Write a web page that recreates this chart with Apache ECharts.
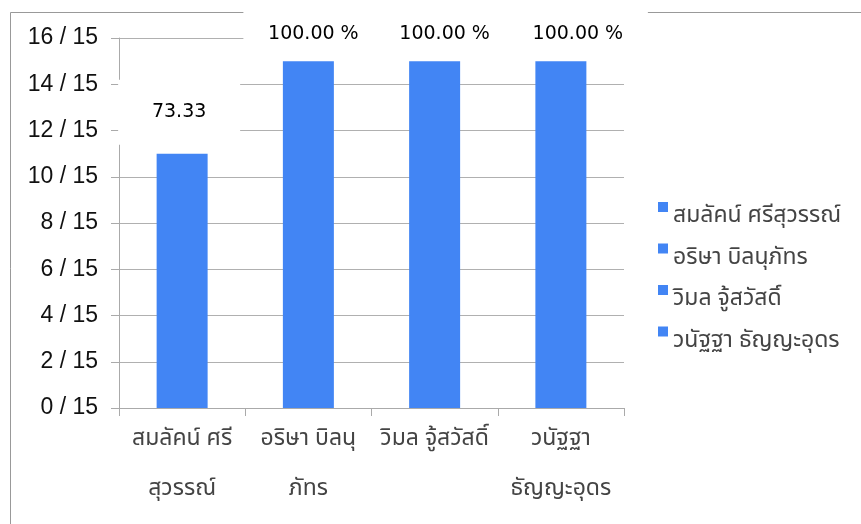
<!DOCTYPE html>
<html>
<head>
<meta charset="utf-8">
<script src="https://cdn.jsdelivr.net/npm/echarts@6/dist/echarts.min.js"></script>
<style>html,body{margin:0;padding:0;background:#fff}#c{width:861px;height:524px}</style>
</head>
<body>
<div id="c"></div>
<script>
var names = ['สมลัคน์ ศรีสุวรรณ์', 'อริษา บิลนุภัทร', 'วิมล จู้สวัสดิ์', 'วนัฐฐา ธัญญะอุดร'];
var xTickLabels = ['สมลัคน์ ศรี\nสุวรรณ์', 'อริษา บิลนุ\nภัทร', 'วิมล จู้สวัสดิ์', 'วนัฐฐา\nธัญญะอุดร'];
var scores = [11, 15, 15, 15];
var valueLabels = ['73.33', '100.00 %', '100.00 %', '100.00 %'];
var yTickLabels = ['0 / 15', '2 / 15', '4 / 15', '6 / 15', '8 / 15', '10 / 15', '12 / 15', '14 / 15', '16 / 15'];

var thai = "'Noto Sans Thai', 'Noto Sans', 'DejaVu Sans', sans-serif";
var labelStyles = [
  {width: 122, lineHeight: 65, offset: [-3, 0], distance: 9},
  {width: 140, lineHeight: 50, offset: [5, 0], distance: 2},
  {width: 140, lineHeight: 50, offset: [10, 0], distance: 2},
  {width: 140, lineHeight: 50, offset: [17, 0], distance: 2}
];

var series = names.map(function (n, i) {
  var d = scores.map(function (v, j) { return j === i ? v : '-'; });
  var ls = labelStyles[i];
  return {
    name: n,
    type: 'bar',
    data: d,
    barWidth: 51,
    barGap: '-100%',
    itemStyle: {color: '#4285F4'},
    label: {
      show: true,
      position: 'top',
      distance: ls.distance,
      offset: ls.offset,
      formatter: function () { return valueLabels[i]; },
      backgroundColor: '#fff',
      width: ls.width,
      lineHeight: ls.lineHeight,
      align: 'center',
      color: '#000',
      fontSize: 19,
      fontFamily: "'DejaVu Sans', sans-serif"
    }
  };
});

var chart = echarts.init(document.getElementById('c'));
chart.setOption({
  animation: false,
  backgroundColor: '#fff',
  graphic: [{
    type: 'rect', z: 0, silent: true,
    shape: {x: 10.5, y: 12.5, width: 900, height: 600},
    style: {fill: 'none', stroke: '#999', lineWidth: 1}
  }],
  grid: {left: 119, right: 237, top: 38, bottom: 116, containLabel: false},
  legend: {
    orient: 'vertical',
    left: 658,
    top: 185,
    padding: 0,
    itemWidth: 10,
    itemHeight: 10,
    itemGap: -2.5,
    icon: 'rect',
    data: names,
    formatter: '{t|{name}}',
    textStyle: {
      fontSize: 23, color: '#444', fontFamily: thai,
      rich: {t: {fontSize: 23, color: '#444', fontFamily: thai, lineHeight: 20, padding: [21, 0, 0, 0]}}
    }
  },
  xAxis: {
    type: 'category',
    data: names,
    axisLine: {lineStyle: {color: '#aaa'}},
    axisTick: {show: true, length: 8, lineStyle: {color: '#aaa'}},
    axisLabel: {
      interval: 0,
      margin: 7,
      fontSize: 23,
      lineHeight: 50,
      color: '#444',
      fontFamily: thai,
      formatter: function (v, idx) { return xTickLabels[idx]; }
    }
  },
  yAxis: {
    type: 'value',
    min: 0, max: 16, interval: 2,
    axisLine: {show: true, lineStyle: {color: '#aaa'}},
    axisTick: {show: true, length: 8, lineStyle: {color: '#aaa'}},
    splitLine: {lineStyle: {color: '#b0b0b0'}},
    axisLabel: {
      margin: 21,
      fontSize: 23,
      color: '#111',
      fontFamily: "'Liberation Sans', Arial, sans-serif",
      formatter: function (v) { return yTickLabels[Math.round(v / 2)]; }
    }
  },
  series: series
});
</script>
</body>
</html>
